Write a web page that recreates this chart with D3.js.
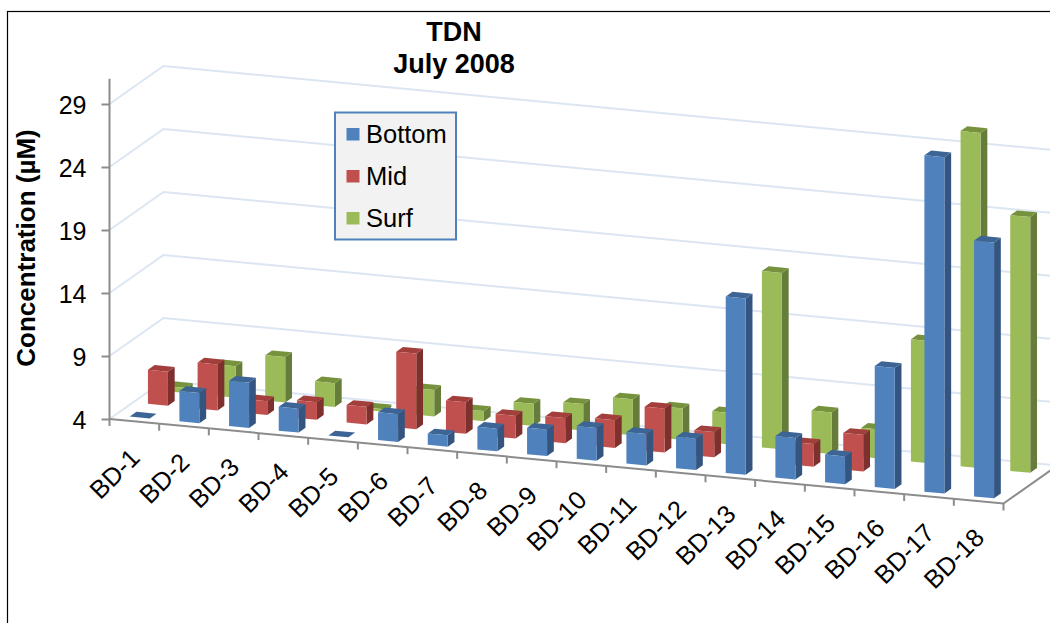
<!DOCTYPE html>
<html><head><meta charset="utf-8">
<style>html,body{margin:0;padding:0;background:#fff;overflow:hidden}svg{display:block}
text{font-family:"Liberation Sans",Arial,sans-serif;fill:#000}</style>
<script src="https://cdn.jsdelivr.net/npm/d3@7"></script></head><body><svg id="c" width="1050" height="623"></svg>
<script>
const categories=["BD-1","BD-2","BD-3","BD-4","BD-5","BD-6","BD-7","BD-8","BD-9","BD-10","BD-11","BD-12","BD-13","BD-14","BD-15","BD-16","BD-17","BD-18"];
const bottom=[4,6.4,7.6,5.9,4,6.2,4.9,5.8,6.1,6.6,6.5,6.5,18,7.3,6.2,13.6,30.7,24.3];
const mid=[6.7,7.65,5.1,5.4,5.4,10,6.5,5.8,6,6.2,7.5,6,null,5.8,6.9,null,null,null];
const surf=[4.4,6.5,7.6,5.9,4.2,6.1,4.8,5.75,6.1,6.85,6.5,6.5,18,7.3,6.3,13.7,30.6,24.3];
const seriesNames=["Bottom","Mid","Surf"];
const valueTicks=[4,9,14,19,24,29];
const titleLines=["TDN","July 2008"];
const yTitle="Concentration (µM)";

const palette={Bottom:{front:"#4f81bd",top:"#3c6595",side:"#34557f"},
               Mid:{front:"#c0504d",top:"#a23e3b",side:"#7d302e"},
               Surf:{front:"#9bbb59",top:"#76923c",side:"#667c3a"}};
const svg=d3.select("#c");
const x0=109.5,y0=419,axisLen=894,slope=0.0945,depthX=54,depthY=-38;
const x=d3.scaleBand().domain(categories).range([0,axisLen]).paddingInner(0).paddingOuter(0);
const y=d3.scaleLinear().domain([4,31]).range([y0,y0-27*12.6]);
const depth=d3.scaleOrdinal().domain(seriesNames).range([0.1,0.437,0.77]);
const barW=20,barD=0.125;
const P=(t,d,v)=>[x0+t+d*depthX, y0+t*slope+d*depthY+(y(v)-y0)];
const pts=a=>a.map(p=>p.join(",")).join(" ");

svg.append("rect").attr("x",7.5).attr("y",11.5).attr("width",1200).attr("height",800).attr("fill","#fff").attr("stroke","#000").attr("stroke-width",1.2);

// walls' gridlines
const grid=svg.append("g").attr("fill","none").attr("stroke","#dce6f2").attr("stroke-width",2);
grid.selectAll("polyline").data(valueTicks).join("polyline")
 .attr("points",v=>pts([P(0,0,v),P(0,1,v),P(axisLen,1,v)]));

// bars, back row first
["Surf","Mid","Bottom"].forEach(name=>{
  const vals={Bottom:bottom,Mid:mid,Surf:surf}[name];
  const c=palette[name],d=depth(name);
  const rows=categories.map((k,i)=>({k,v:vals[i]})).filter(r=>r.v!==null);
  const g=svg.append("g").selectAll("g").data(rows).join("g");
  const L=r=>x(r.k)+x.bandwidth()/2-barW/2, R=r=>L(r)+barW;
  g.append("polygon").attr("fill",c.side).attr("points",r=>pts([P(R(r),d,4),P(R(r),d+barD,4),P(R(r),d+barD,r.v),P(R(r),d,r.v)]));
  g.append("polygon").attr("fill",c.top).attr("points",r=>pts([P(L(r),d,r.v),P(R(r),d,r.v),P(R(r),d+barD,r.v),P(L(r),d+barD,r.v)]));
  g.append("polygon").attr("fill",c.front).attr("points",r=>pts([P(L(r),d,4),P(R(r),d,4),P(R(r),d,r.v),P(L(r),d,r.v)]));
});

// value axis
const yAxis=svg.append("g").attr("transform",`translate(${x0},0)`).call(d3.axisLeft(y).tickValues(valueTicks).tickSize(8).tickPadding(15).tickFormat(d3.format("d")));
yAxis.selectAll("path,line").attr("stroke","#8c8c8c").attr("stroke-width",2);
yAxis.select("path").attr("d",`M0,${y(31)}V${y0}`);
yAxis.selectAll("text").attr("font-size",25).attr("font-family",'"Liberation Sans"').attr("fill","#000").attr("dy","0.36em");

// floor axes
const floor=svg.append("g").attr("fill","none").attr("stroke","#8c8c8c").attr("stroke-width",2);
floor.append("polyline").attr("points",pts([P(axisLen,1,4),P(axisLen,0,4),P(0,0,4)]));
floor.selectAll("line").data(categories.concat("__end")).join("line")
 .each(function(k){const t=k==="__end"?axisLen:x(k);const p=P(t,0,4);
   d3.select(this).attr("x1",p[0]).attr("y1",p[1]).attr("x2",p[0]).attr("y2",p[1]+7);});

// category labels
svg.append("g").selectAll("text").data(categories).join("text")
 .attr("font-size",25.5).attr("text-anchor","end")
 .attr("transform",k=>{const p=P(x(k)+x.bandwidth()/2,0,4);return `translate(${p[0]+7},${p[1]+38}) rotate(-45)`;})
 .text(k=>k);

// titles
svg.append("g").selectAll("text").data(titleLines).join("text")
 .attr("x",454).attr("y",(d,i)=>41+i*32).attr("text-anchor","middle").attr("font-size",27).attr("font-weight","bold").text(d=>d);
svg.append("text").attr("transform","translate(35,248) rotate(-90)").attr("text-anchor","middle").attr("font-size",26).attr("font-weight","bold").text(yTitle);

// legend
const leg=svg.append("g");
leg.append("rect").attr("x",335).attr("y",112.5).attr("width",121).attr("height",127).attr("fill","#f2f2f2").attr("stroke","#4f81bd").attr("stroke-width",2);
const li=leg.selectAll("g").data(seriesNames).join("g").attr("transform",(d,i)=>`translate(0,${i*42})`);
li.append("rect").attr("x",346.5).attr("y",128).attr("width",13).attr("height",12.5).attr("fill",d=>palette[d].front);
li.append("text").attr("x",366).attr("y",143).attr("font-size",25.5).text(d=>d);
</script></body></html>
